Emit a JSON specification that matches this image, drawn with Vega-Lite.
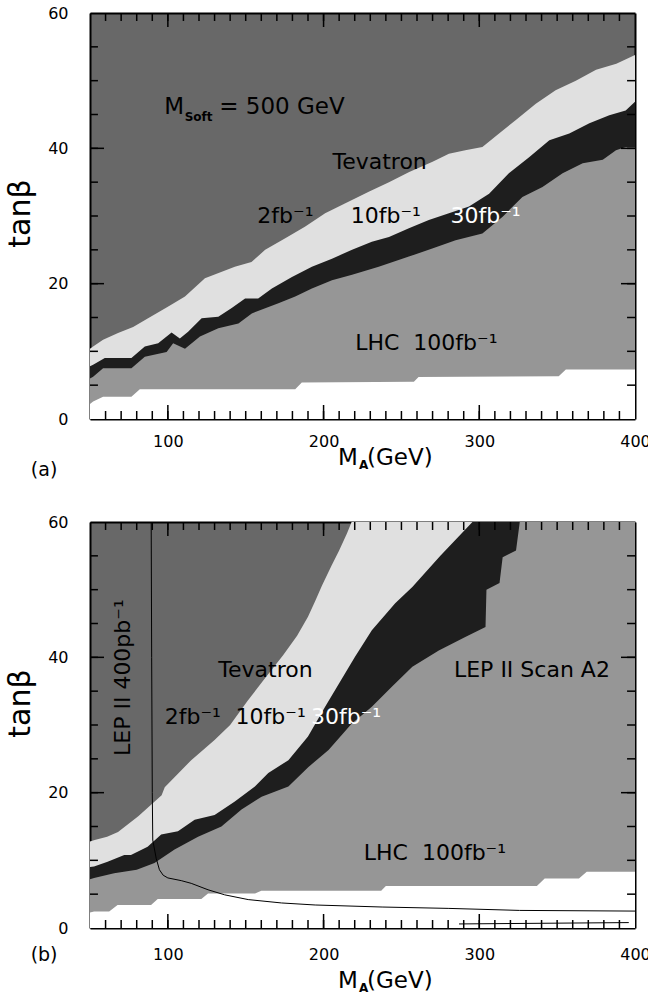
{
  "$schema": "https://vega.github.io/schema/vega-lite/v6.json",
  "padding": {"left": 5, "top": 5, "right": 2, "bottom": 2},
  "spacing": 103,
  "bounds": "flush",
  "config": {
    "view": {"fill": "#686868", "stroke": null},
    "font": "DejaVu Sans",
    "axis": {"domainColor": "black", "domainWidth": 2, "labelFont": "DejaVu Sans", "labelFontSize": 16, "labelColor": "black", "grid": false, "titleColor": "black", "labelFlush": false, "labelOverlap": false, "labelBound": false, "zindex": 1, "title": null, "ticks": false, "tickSize": 0},
    "text": {"font": "DejaVu Sans", "color": "black"},
    "rule": {"color": "black", "strokeWidth": 1.5}
  },
  "datasets": {
    "xt": [{"v":60},{"v":70},{"v":80},{"v":90},{"v":100},{"v":110},{"v":120},{"v":130},{"v":140},{"v":150},{"v":160},{"v":170},{"v":180},{"v":190},{"v":200},{"v":210},{"v":220},{"v":230},{"v":240},{"v":250},{"v":260},{"v":270},{"v":280},{"v":290},{"v":300},{"v":310},{"v":320},{"v":330},{"v":340},{"v":350},{"v":360},{"v":370},{"v":380},{"v":390}],
    "xtM": [{"v":100},{"v":200},{"v":300}],
    "yt": [{"v":5},{"v":10},{"v":15},{"v":20},{"v":25},{"v":30},{"v":35},{"v":40},{"v":45},{"v":50},{"v":55}],
    "ytM": [{"v":20},{"v":40}],
    "a": [
      {"s":"lt","x":50,"y":10.4},{"s":"lt","x":52,"y":10.7},{"s":"lt","x":58.4,"y":11.7},{"s":"lt","x":68,"y":12.7},{"s":"lt","x":77.7,"y":13.6},{"s":"lt","x":87.3,"y":14.9},{"s":"lt","x":100,"y":16.6},{"s":"lt","x":111,"y":18.1},{"s":"lt","x":123.8,"y":20.8},{"s":"lt","x":143,"y":22.5},{"s":"lt","x":153.7,"y":23.2},{"s":"lt","x":162.5,"y":25},{"s":"lt","x":175.4,"y":26.7},{"s":"lt","x":188,"y":28.4},{"s":"lt","x":201,"y":30.4},{"s":"lt","x":214,"y":31.9},{"s":"lt","x":229,"y":33.6},{"s":"lt","x":242,"y":35},{"s":"lt","x":255,"y":36.5},{"s":"lt","x":270,"y":38},{"s":"lt","x":280.5,"y":39.2},{"s":"lt","x":291,"y":39.7},{"s":"lt","x":302,"y":40.2},{"s":"lt","x":312.7,"y":42.2},{"s":"lt","x":323.5,"y":44.2},{"s":"lt","x":336.3,"y":46.6},{"s":"lt","x":349,"y":48.6},{"s":"lt","x":362,"y":50},{"s":"lt","x":375,"y":51.6},{"s":"lt","x":388,"y":52.5},{"s":"lt","x":400,"y":53.8},
      {"s":"bt","x":50,"y":7.8},{"s":"bt","x":52,"y":8},{"s":"bt","x":59.5,"y":9},{"s":"bt","x":76.6,"y":9},{"s":"bt","x":85.2,"y":10.7},{"s":"bt","x":93.8,"y":11.2},{"s":"bt","x":102.4,"y":12.8},{"s":"bt","x":107.7,"y":11.9},{"s":"bt","x":113,"y":12.9},{"s":"bt","x":121.7,"y":14.9},{"s":"bt","x":132.4,"y":15.1},{"s":"bt","x":141,"y":16.4},{"s":"bt","x":149.6,"y":17.8},{"s":"bt","x":158,"y":17.8},{"s":"bt","x":166.8,"y":19.3},{"s":"bt","x":179.7,"y":21},{"s":"bt","x":192.5,"y":22.5},{"s":"bt","x":205.4,"y":23.7},{"s":"bt","x":218.3,"y":25},{"s":"bt","x":231,"y":26.2},{"s":"bt","x":242,"y":26.9},{"s":"bt","x":254.8,"y":28.2},{"s":"bt","x":267.6,"y":29.4},{"s":"bt","x":280.5,"y":30.4},{"s":"bt","x":293.4,"y":31.4},{"s":"bt","x":306.3,"y":33.3},{"s":"bt","x":319,"y":36.3},{"s":"bt","x":332,"y":38.7},{"s":"bt","x":345,"y":41.2},{"s":"bt","x":357.8,"y":42.2},{"s":"bt","x":370.7,"y":43.7},{"s":"bt","x":383.5,"y":44.9},{"s":"bt","x":394,"y":45.6},{"s":"bt","x":400,"y":46.9},
      {"s":"bb","x":50,"y":6},{"s":"bb","x":52,"y":6.25},{"s":"bb","x":58.4,"y":7.5},{"s":"bb","x":76.6,"y":7.5},{"s":"bb","x":85.2,"y":9.2},{"s":"bb","x":99.2,"y":9.9},{"s":"bb","x":103.4,"y":11.2},{"s":"bb","x":111,"y":10.4},{"s":"bb","x":120.6,"y":12.2},{"s":"bb","x":132.4,"y":13.4},{"s":"bb","x":145.3,"y":14.1},{"s":"bb","x":153.9,"y":15.6},{"s":"bb","x":171,"y":17.1},{"s":"bb","x":181.8,"y":18.1},{"s":"bb","x":192.5,"y":19.3},{"s":"bb","x":205.4,"y":20.5},{"s":"bb","x":218.3,"y":21.3},{"s":"bb","x":235.4,"y":22.5},{"s":"bb","x":254.8,"y":24},{"s":"bb","x":269.8,"y":25.2},{"s":"bb","x":284.8,"y":26.4},{"s":"bb","x":302,"y":27.4},{"s":"bb","x":315,"y":29.9},{"s":"bb","x":327.7,"y":32.8},{"s":"bb","x":340.6,"y":34.3},{"s":"bb","x":353.5,"y":36.3},{"s":"bb","x":366.4,"y":37.8},{"s":"bb","x":379.3,"y":38.3},{"s":"bb","x":387.8,"y":39.7},{"s":"bb","x":394,"y":40.2},{"s":"bb","x":400,"y":40.2},
      {"s":"wb","x":50,"y":2.2},{"s":"wb","x":52,"y":2.6},{"s":"wb","x":58.4,"y":3.3},{"s":"wb","x":76.6,"y":3.3},{"s":"wb","x":82,"y":4.4},{"s":"wb","x":181.8,"y":4.4},{"s":"wb","x":186,"y":5.4},{"s":"wb","x":258,"y":5.5},{"s":"wb","x":261,"y":6.2},{"s":"wb","x":351,"y":6.3},{"s":"wb","x":355.6,"y":7.3},{"s":"wb","x":400,"y":7.3}
    ],
    "b": [
      {"s":"lt","x":50,"y":12.8},{"s":"lt","x":53,"y":13},{"s":"lt","x":61,"y":13.5},{"s":"lt","x":68,"y":14.2},{"s":"lt","x":81,"y":16.5},{"s":"lt","x":96,"y":19.6},{"s":"lt","x":98,"y":20.8},{"s":"lt","x":115,"y":24.8},{"s":"lt","x":130,"y":27.8},{"s":"lt","x":140,"y":30},{"s":"lt","x":151,"y":33.5},{"s":"lt","x":162,"y":36.8},{"s":"lt","x":174,"y":40.3},{"s":"lt","x":183,"y":43.2},{"s":"lt","x":190,"y":46},{"s":"lt","x":195,"y":48.5},{"s":"lt","x":199,"y":50.6},{"s":"lt","x":205,"y":53.5},{"s":"lt","x":210,"y":55.8},{"s":"lt","x":215,"y":58.3},{"s":"lt","x":218,"y":60},{"s":"lt","x":400,"y":60},
      {"s":"bt","x":50,"y":9},{"s":"bt","x":52.6,"y":9.1},{"s":"bt","x":61.3,"y":9.8},{"s":"bt","x":72,"y":10.8},{"s":"bt","x":76.3,"y":10.8},{"s":"bt","x":87,"y":12},{"s":"bt","x":95.7,"y":13.8},{"s":"bt","x":106.5,"y":14.3},{"s":"bt","x":117.2,"y":16},{"s":"bt","x":130,"y":16.7},{"s":"bt","x":143,"y":18.7},{"s":"bt","x":155.9,"y":20.9},{"s":"bt","x":164.5,"y":22.9},{"s":"bt","x":177.4,"y":24.8},{"s":"bt","x":190,"y":28.3},{"s":"bt","x":201,"y":32.7},{"s":"bt","x":220,"y":40},{"s":"bt","x":231,"y":44},{"s":"bt","x":246,"y":48},{"s":"bt","x":257,"y":50.4},{"s":"bt","x":275,"y":55},{"s":"bt","x":295.6,"y":60},{"s":"bt","x":400,"y":60},
      {"s":"bb","x":50,"y":7.2},{"s":"bb","x":52.6,"y":7.4},{"s":"bb","x":65.5,"y":8.1},{"s":"bb","x":80,"y":8.6},{"s":"bb","x":91.4,"y":9.6},{"s":"bb","x":104.3,"y":11.6},{"s":"bb","x":119.4,"y":13.5},{"s":"bb","x":134.4,"y":15},{"s":"bb","x":147.3,"y":17.5},{"s":"bb","x":160.2,"y":19.4},{"s":"bb","x":177.4,"y":20.9},{"s":"bb","x":190.3,"y":23.8},{"s":"bb","x":203.2,"y":26.3},{"s":"bb","x":218,"y":30.2},{"s":"bb","x":231,"y":32.7},{"s":"bb","x":244,"y":35.7},{"s":"bb","x":257,"y":38.6},{"s":"bb","x":274,"y":41},{"s":"bb","x":291,"y":43},{"s":"bb","x":304,"y":44.5},{"s":"bb","x":304.6,"y":50},{"s":"bb","x":313,"y":51},{"s":"bb","x":315,"y":54.8},{"s":"bb","x":323.6,"y":55.8},{"s":"bb","x":326,"y":60},{"s":"bb","x":400,"y":60},
      {"s":"wb","x":50,"y":2.3},{"s":"wb","x":52.6,"y":2.45},{"s":"wb","x":62.3,"y":2.45},{"s":"wb","x":67.7,"y":3.4},{"s":"wb","x":89.2,"y":3.4},{"s":"wb","x":93.5,"y":4.3},{"s":"wb","x":121.5,"y":4.3},{"s":"wb","x":125.8,"y":5.1},{"s":"wb","x":156,"y":5.1},{"s":"wb","x":160,"y":5.5},{"s":"wb","x":237,"y":5.5},{"s":"wb","x":240,"y":6.2},{"s":"wb","x":337,"y":6.2},{"s":"wb","x":342,"y":7.3},{"s":"wb","x":364,"y":7.3},{"s":"wb","x":369,"y":8.3},{"s":"wb","x":400,"y":8.3},
      {"s":"c1","x":89.3,"y":60},{"s":"c1","x":89.6,"y":40},{"s":"c1","x":90,"y":20},{"s":"c1","x":90.3,"y":13},{"s":"c1","x":92.5,"y":10.3},{"s":"c1","x":94.6,"y":8.6},{"s":"c1","x":97,"y":7.8},{"s":"c1","x":100,"y":7.4},{"s":"c1","x":108.6,"y":7},{"s":"c1","x":115,"y":6.6},{"s":"c1","x":125.8,"y":5.65},{"s":"c1","x":136.5,"y":4.9},{"s":"c1","x":151.6,"y":4.2},{"s":"c1","x":173,"y":3.7},{"s":"c1","x":194.6,"y":3.4},{"s":"c1","x":237.6,"y":3.1},{"s":"c1","x":280,"y":2.9},{"s":"c1","x":325.8,"y":2.6},{"s":"c1","x":400,"y":2.5},
      {"s":"c2","x":287,"y":0.6},{"s":"c2","x":396,"y":0.8}
    ]
  },
  "vconcat": [
    {
      "width": 545, "height": 406,
      "resolve": {"axis": {"x": "independent", "y": "independent"}},
      "layer": [
        {"data": {"name": "a"}, "transform": [{"filter": "datum.s === 'lt'"}],
         "mark": {"type": "area", "color": "#e0e0e0"},
         "encoding": {
           "x": {"field": "x", "type": "quantitative", "scale": {"domain": [50, 400], "nice": false, "zero": false},
                 "axis": {"orient": "bottom", "values": [100,200,300,400], "labelPadding": 14}},
           "y": {"field": "y", "type": "quantitative", "scale": {"domain": [0, 60], "nice": false, "zero": false},
                 "axis": {"orient": "left", "values": [0,20,40,60], "labelPadding": 22, "title": "tanβ", "titleFontSize": 30, "titleFontWeight": "normal", "titleX": -70, "titleY": 200, "titleAngle": 270, "titleBaseline": "middle", "titleAlign": "center"}},
           "y2": {"datum": 0}}},
        {"data": {"name": "a"}, "transform": [{"filter": "datum.s === 'bt'"}],
         "mark": {"type": "area", "color": "#1e1e1e"},
         "encoding": {
           "x": {"field": "x", "type": "quantitative", "scale": {"domain": [50, 400], "nice": false, "zero": false},
                 "axis": {"orient": "top", "labels": false}},
           "y": {"field": "y", "type": "quantitative", "scale": {"domain": [0, 60], "nice": false, "zero": false},
                 "axis": {"orient": "right", "labels": false}},
           "y2": {"datum": 0}}},
        {"data": {"name": "a"}, "transform": [{"filter": "datum.s === 'bb'"}],
         "mark": {"type": "area", "color": "#969696"},
         "encoding": {"x": {"field": "x", "type": "quantitative", "axis": null}, "y": {"field": "y", "type": "quantitative", "axis": null}, "y2": {"datum": 0}}},
        {"data": {"name": "a"}, "transform": [{"filter": "datum.s === 'wb'"}],
         "mark": {"type": "area", "color": "#ffffff"},
         "encoding": {"x": {"field": "x", "type": "quantitative", "axis": null}, "y": {"field": "y", "type": "quantitative", "axis": null}, "y2": {"datum": 0}}},
        {"data": {"name": "xt"}, "mark": "rule", "encoding": {"x": {"field": "v", "type": "quantitative", "axis": null}, "y": {"datum": 0, "axis": null}, "y2": {"datum": 1.18}}},
        {"data": {"name": "xt"}, "mark": "rule", "encoding": {"x": {"field": "v", "type": "quantitative", "axis": null}, "y": {"datum": 60, "axis": null}, "y2": {"datum": 58.82}}},
        {"data": {"name": "xtM"}, "mark": "rule", "encoding": {"x": {"field": "v", "type": "quantitative", "axis": null}, "y": {"datum": 0, "axis": null}, "y2": {"datum": 2.07}}},
        {"data": {"name": "xtM"}, "mark": "rule", "encoding": {"x": {"field": "v", "type": "quantitative", "axis": null}, "y": {"datum": 60, "axis": null}, "y2": {"datum": 57.93}}},
        {"data": {"name": "yt"}, "mark": "rule", "encoding": {"y": {"field": "v", "type": "quantitative", "axis": null}, "x": {"datum": 50, "axis": null}, "x2": {"datum": 55.1}}},
        {"data": {"name": "yt"}, "mark": "rule", "encoding": {"y": {"field": "v", "type": "quantitative", "axis": null}, "x": {"datum": 400, "axis": null}, "x2": {"datum": 394.9}}},
        {"data": {"name": "ytM"}, "mark": "rule", "encoding": {"y": {"field": "v", "type": "quantitative", "axis": null}, "x": {"datum": 50, "axis": null}, "x2": {"datum": 59}}},
        {"data": {"name": "ytM"}, "mark": "rule", "encoding": {"y": {"field": "v", "type": "quantitative", "axis": null}, "x": {"datum": 400, "axis": null}, "x2": {"datum": 391}}},
        {"data": {"values": [{"x": 236, "y": 38, "t": "Tevatron"}, {"x": 175.5, "y": 30, "t": "2fb⁻¹"}, {"x": 240, "y": 30, "t": "10fb⁻¹"}, {"x": 266, "y": 11.2, "t": "LHC\u00a0\u00a0100fb⁻¹"}]},
         "mark": {"type": "text", "fontSize": 22, "color": "black", "baseline": "middle"},
         "encoding": {"x": {"field": "x", "type": "quantitative", "axis": null}, "y": {"field": "y", "type": "quantitative", "axis": null}, "text": {"field": "t"}}},
        {"data": {"values": [{"x": 304, "y": 30, "t": "30fb⁻¹"}]},
         "mark": {"type": "text", "fontSize": 22, "color": "white", "baseline": "middle"},
         "encoding": {"x": {"field": "x", "type": "quantitative", "axis": null}, "y": {"field": "y", "type": "quantitative", "axis": null}, "text": {"field": "t"}}},
        {"data": {"values": [{"x": 110.4, "y": 46.1, "t": "M"}, {"x": 222.1, "y": -5.7, "t": "M"}]},
         "mark": {"type": "text", "fontSize": 23, "color": "black", "baseline": "middle", "align": "right"},
         "encoding": {"x": {"field": "x", "type": "quantitative", "axis": null}, "y": {"field": "y", "type": "quantitative", "axis": null}, "text": {"field": "t"}}},
        {"data": {"values": [{"x": 110.8, "y": 44.7, "t": "Soft"}, {"x": 222.8, "y": -6.8, "t": "A"}]},
         "mark": {"type": "text", "fontSize": 12, "fontWeight": "bold", "color": "black", "baseline": "middle", "align": "left"},
         "encoding": {"x": {"field": "x", "type": "quantitative", "axis": null}, "y": {"field": "y", "type": "quantitative", "axis": null}, "text": {"field": "t"}}},
        {"data": {"values": [{"x": 133, "y": 46.1, "t": "= 500 GeV"}, {"x": 227.9, "y": -5.7, "t": "(GeV)"}]},
         "mark": {"type": "text", "fontSize": 23, "color": "black", "baseline": "middle", "align": "left"},
         "encoding": {"x": {"field": "x", "type": "quantitative", "axis": null}, "y": {"field": "y", "type": "quantitative", "axis": null}, "text": {"field": "t"}}},
        {"data": {"values": [{"x": 20.5, "y": -7.5, "t": "(a)"}]},
         "mark": {"type": "text", "fontSize": 19, "color": "black", "baseline": "middle"},
         "encoding": {"x": {"field": "x", "type": "quantitative", "axis": null}, "y": {"field": "y", "type": "quantitative", "axis": null}, "text": {"field": "t"}}}
      ]
    },
    {
      "width": 545, "height": 406,
      "resolve": {"axis": {"x": "independent", "y": "independent"}},
      "layer": [
        {"data": {"name": "b"}, "transform": [{"filter": "datum.s === 'lt'"}],
         "mark": {"type": "area", "color": "#e0e0e0"},
         "encoding": {
           "x": {"field": "x", "type": "quantitative", "scale": {"domain": [50, 400], "nice": false, "zero": false},
                 "axis": {"orient": "bottom", "values": [100,200,300,400], "labelPadding": 18}},
           "y": {"field": "y", "type": "quantitative", "scale": {"domain": [0, 60], "nice": false, "zero": false},
                 "axis": {"orient": "left", "values": [0,20,40,60], "labelPadding": 22, "title": "tanβ", "titleFontSize": 30, "titleFontWeight": "normal", "titleX": -70, "titleY": 181, "titleAngle": 270, "titleBaseline": "middle", "titleAlign": "center"}},
           "y2": {"datum": 0}}},
        {"data": {"name": "b"}, "transform": [{"filter": "datum.s === 'bt'"}],
         "mark": {"type": "area", "color": "#1e1e1e"},
         "encoding": {
           "x": {"field": "x", "type": "quantitative", "scale": {"domain": [50, 400], "nice": false, "zero": false},
                 "axis": {"orient": "top", "labels": false}},
           "y": {"field": "y", "type": "quantitative", "scale": {"domain": [0, 60], "nice": false, "zero": false},
                 "axis": {"orient": "right", "labels": false}},
           "y2": {"datum": 0}}},
        {"data": {"name": "b"}, "transform": [{"filter": "datum.s === 'bb'"}],
         "mark": {"type": "area", "color": "#969696"},
         "encoding": {"x": {"field": "x", "type": "quantitative", "axis": null}, "y": {"field": "y", "type": "quantitative", "axis": null}, "y2": {"datum": 0}}},
        {"data": {"name": "b"}, "transform": [{"filter": "datum.s === 'wb'"}],
         "mark": {"type": "area", "color": "#ffffff"},
         "encoding": {"x": {"field": "x", "type": "quantitative", "axis": null}, "y": {"field": "y", "type": "quantitative", "axis": null}, "y2": {"datum": 0}}},
        {"data": {"name": "b"}, "transform": [{"filter": "datum.s === 'c1' || datum.s === 'c2'"}],
         "mark": {"type": "line", "color": "black", "strokeWidth": 1},
         "encoding": {"x": {"field": "x", "type": "quantitative", "axis": null}, "y": {"field": "y", "type": "quantitative", "axis": null}, "detail": {"field": "s"}}},
        {"data": {"name": "xt"}, "mark": "rule", "encoding": {"x": {"field": "v", "type": "quantitative", "axis": null}, "y": {"datum": 0, "axis": null}, "y2": {"datum": 1.18}}},
        {"data": {"name": "xt"}, "mark": "rule", "encoding": {"x": {"field": "v", "type": "quantitative", "axis": null}, "y": {"datum": 60, "axis": null}, "y2": {"datum": 58.82}}},
        {"data": {"name": "xtM"}, "mark": "rule", "encoding": {"x": {"field": "v", "type": "quantitative", "axis": null}, "y": {"datum": 0, "axis": null}, "y2": {"datum": 2.07}}},
        {"data": {"name": "xtM"}, "mark": "rule", "encoding": {"x": {"field": "v", "type": "quantitative", "axis": null}, "y": {"datum": 60, "axis": null}, "y2": {"datum": 57.93}}},
        {"data": {"name": "yt"}, "mark": "rule", "encoding": {"y": {"field": "v", "type": "quantitative", "axis": null}, "x": {"datum": 50, "axis": null}, "x2": {"datum": 55.1}}},
        {"data": {"name": "yt"}, "mark": "rule", "encoding": {"y": {"field": "v", "type": "quantitative", "axis": null}, "x": {"datum": 400, "axis": null}, "x2": {"datum": 394.9}}},
        {"data": {"name": "ytM"}, "mark": "rule", "encoding": {"y": {"field": "v", "type": "quantitative", "axis": null}, "x": {"datum": 50, "axis": null}, "x2": {"datum": 59}}},
        {"data": {"name": "ytM"}, "mark": "rule", "encoding": {"y": {"field": "v", "type": "quantitative", "axis": null}, "x": {"datum": 400, "axis": null}, "x2": {"datum": 391}}},
        {"data": {"values": [{"x": 162.7, "y": 38.1, "t": "Tevatron"}, {"x": 116, "y": 31.2, "t": "2fb⁻¹"}, {"x": 166, "y": 31.2, "t": "10fb⁻¹"}, {"x": 333.8, "y": 38.1, "t": "LEP II Scan A2"}, {"x": 271.5, "y": 11.1, "t": "LHC\u00a0\u00a0100fb⁻¹"}]},
         "mark": {"type": "text", "fontSize": 22, "color": "black", "baseline": "middle"},
         "encoding": {"x": {"field": "x", "type": "quantitative", "axis": null}, "y": {"field": "y", "type": "quantitative", "axis": null}, "text": {"field": "t"}}},
        {"data": {"values": [{"x": 71, "y": 37, "t": "LEP II 400pb⁻¹"}]},
         "mark": {"type": "text", "fontSize": 22, "color": "black", "baseline": "middle", "angle": 270},
         "encoding": {"x": {"field": "x", "type": "quantitative", "axis": null}, "y": {"field": "y", "type": "quantitative", "axis": null}, "text": {"field": "t"}}},
        {"data": {"values": [{"x": 214.4, "y": 31.2, "t": "30fb⁻¹"}]},
         "mark": {"type": "text", "fontSize": 22, "color": "white", "baseline": "middle"},
         "encoding": {"x": {"field": "x", "type": "quantitative", "axis": null}, "y": {"field": "y", "type": "quantitative", "axis": null}, "text": {"field": "t"}}},
        {"data": {"values": [{"x": 222.1, "y": -7.8, "t": "M"}]},
         "mark": {"type": "text", "fontSize": 23, "color": "black", "baseline": "middle", "align": "right"},
         "encoding": {"x": {"field": "x", "type": "quantitative", "axis": null}, "y": {"field": "y", "type": "quantitative", "axis": null}, "text": {"field": "t"}}},
        {"data": {"values": [{"x": 222.8, "y": -8.9, "t": "A"}]},
         "mark": {"type": "text", "fontSize": 12, "fontWeight": "bold", "color": "black", "baseline": "middle", "align": "left"},
         "encoding": {"x": {"field": "x", "type": "quantitative", "axis": null}, "y": {"field": "y", "type": "quantitative", "axis": null}, "text": {"field": "t"}}},
        {"data": {"values": [{"x": 227.9, "y": -7.8, "t": "(GeV)"}]},
         "mark": {"type": "text", "fontSize": 23, "color": "black", "baseline": "middle", "align": "left"},
         "encoding": {"x": {"field": "x", "type": "quantitative", "axis": null}, "y": {"field": "y", "type": "quantitative", "axis": null}, "text": {"field": "t"}}},
        {"data": {"values": [{"x": 20.5, "y": -4, "t": "(b)"}]},
         "mark": {"type": "text", "fontSize": 19, "color": "black", "baseline": "middle"},
         "encoding": {"x": {"field": "x", "type": "quantitative", "axis": null}, "y": {"field": "y", "type": "quantitative", "axis": null}, "text": {"field": "t"}}}
      ]
    }
  ]
}
